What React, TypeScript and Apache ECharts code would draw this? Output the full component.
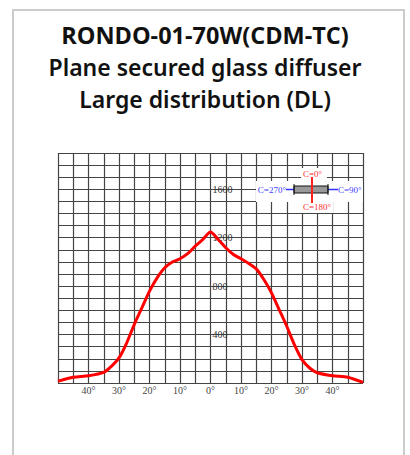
import React, { useEffect, useRef } from 'react';
import * as echarts from 'echarts';

const titleLine1 = 'RONDO-01-70W(CDM-TC)';
const titleLine2 = 'Plane secured glass diffuser';
const titleLine3 = 'Large distribution (DL)';

const angles = [-50, -45, -40, -35, -32.5, -30, -27.5, -25, -22.5, -20, -17.5, -15, -12.5, -10, -7.5, -5, -2.5, 0, 2.5, 5, 7.5, 10, 12.5, 15, 17.5, 20, 22.5, 25, 27.5, 30, 32.5, 35, 40, 45, 50];
const intensity = [15, 48, 60, 88, 138, 207, 330, 483, 620, 759, 869, 952, 999, 1026, 1068, 1131, 1186, 1247, 1186, 1117, 1062, 1026, 988, 943, 855, 745, 607, 469, 317, 193, 124, 85, 60, 47, 5];

const yLabelValues = [400, 800, 1200, 1600];
const xLabelAngles = [-40, -30, -20, -10, 0, 10, 20, 30, 40];

const legendTop = 'C=0°';
const legendBottom = 'C=180°';
const legendLeft = 'C=270°';
const legendRight = 'C=90°';

export default function App() {
  const ref = useRef<HTMLDivElement>(null);
  useEffect(() => {
    if (!ref.current) return;
    const chart = echarts.init(ref.current, undefined, { renderer: 'svg' });
    const serif = 'Liberation Serif';
    const titleFont = 'Open Sans';
    const subFont = 'Noto Sans';
    chart.setOption({
      animation: false,
      backgroundColor: '#ffffff',
      title: [
        { text: titleLine1, left: 'center', top: 18, textStyle: { fontFamily: titleFont, fontSize: 23.5, fontWeight: 700, color: '#111' } },
        { text: titleLine2, left: 'center', top: 50, textStyle: { fontFamily: subFont, fontSize: 23, fontWeight: 600, color: '#111' } },
        { text: titleLine3, left: 'center', top: 82, textStyle: { fontFamily: subFont, fontSize: 23, fontWeight: 600, color: '#111' } },
      ],
      grid: { left: 58, right: 47, top: 153, bottom: 72, containLabel: false },
      xAxis: {
        type: 'value',
        min: -50,
        max: 50,
        interval: 5,
        axisLine: { show: false },
        axisTick: { show: false },
        splitLine: { show: true, lineStyle: { color: '#444', width: 1.2 } },
        axisLabel: {
          margin: 2,
          fontFamily: serif,
          fontSize: 10,
          color: '#444',
          formatter: (v: number) => (xLabelAngles.indexOf(v) >= 0 ? Math.abs(v) + '°' : ''),
        },
      },
      yAxis: {
        type: 'value',
        min: 0,
        max: 1900,
        interval: 100,
        offset: -152.5,
        axisLine: { show: false },
        axisTick: { show: false },
        splitLine: { show: true, lineStyle: { color: '#444', width: 1.2 } },
        axisLabel: {
          inside: true,
          margin: 2,
          fontFamily: serif,
          fontSize: 10,
          color: '#333',
          formatter: (v: number) => (yLabelValues.indexOf(v) >= 0 ? String(v) : ''),
        },
      },
      series: [
        {
          type: 'line',
          data: angles.map((a, i) => [a, intensity[i]]),
          smooth: 0.25,
          symbol: 'none',
          lineStyle: { color: '#ff0000', width: 3 },
          z: 5,
        },
      ],
      graphic: [
        { type: 'rect', z: -10, shape: { x: 13, y: 10, width: 391, height: 470 }, style: { fill: 'none', stroke: '#cccccc', lineWidth: 2 } },
        { type: 'rect', z: 100, shape: { x: 256, y: 181, width: 107, height: 21 }, style: { fill: '#ffffff' } },
        { type: 'rect', z: 100, shape: { x: 301, y: 168, width: 26, height: 14 }, style: { fill: '#ffffff' } },
        { type: 'rect', z: 100, shape: { x: 301, y: 201, width: 32, height: 12 }, style: { fill: '#ffffff' } },
        { type: 'line', z: 101, shape: { x1: 286, y1: 189.5, x2: 338, y2: 189.5 }, style: { stroke: '#3333ff', lineWidth: 1.5 } },
        { type: 'rect', z: 102, shape: { x: 294, y: 186, width: 34, height: 7 }, style: { fill: '#999999', stroke: '#111', lineWidth: 1 } },
        { type: 'line', z: 103, shape: { x1: 294, y1: 184, x2: 294, y2: 195 }, style: { stroke: '#111', lineWidth: 1 } },
        { type: 'line', z: 103, shape: { x1: 328, y1: 184, x2: 328, y2: 195 }, style: { stroke: '#111', lineWidth: 1 } },
        { type: 'line', z: 104, shape: { x1: 312, y1: 177, x2: 312, y2: 203 }, style: { stroke: '#ff2020', lineWidth: 2 } },
        { type: 'text', z: 105, x: 303, y: 174, style: { text: legendTop, fill: '#ff3030', font: '9px "Liberation Serif"', textAlign: 'left', textVerticalAlign: 'middle' } },
        { type: 'text', z: 105, x: 303, y: 207, style: { text: legendBottom, fill: '#ff3030', font: '9px "Liberation Serif"', textAlign: 'left', textVerticalAlign: 'middle' } },
        { type: 'text', z: 105, x: 286, y: 189.5, style: { text: legendLeft, fill: '#4040ff', font: '9px "Liberation Serif"', textAlign: 'right', textVerticalAlign: 'middle' } },
        { type: 'text', z: 105, x: 338, y: 189.5, style: { text: legendRight, fill: '#4040ff', font: '9px "Liberation Serif"', textAlign: 'left', textVerticalAlign: 'middle' } },
      ],
    });
    return () => chart.dispose();
  }, []);
  return (
    <div style={{ position: 'fixed', left: 0, top: 0, width: 410, height: 455, background: '#fff' }}>
      <div ref={ref} style={{ width: 410, height: 455 }} />
    </div>
  );
}
